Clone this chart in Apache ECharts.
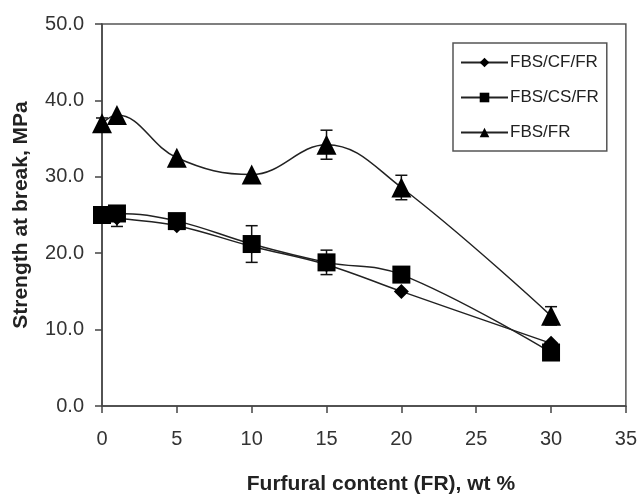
<!DOCTYPE html>
<html>
<head>
<meta charset="utf-8">
<script src="https://cdn.jsdelivr.net/npm/echarts@6/dist/echarts.min.js"></script>
<style>
html,body{margin:0;padding:0;background:#fff;}
#chart{width:640px;height:500px;}
</style>
</head>
<body>
<div id="chart"></div>
<script>
// ---- data ----
var xValues = [0, 1, 5, 10, 15, 20, 30];
var seriesNames = ['FBS/CF/FR', 'FBS/CS/FR', 'FBS/FR'];
var cfValues = [25.0, 24.6, 23.6, 20.9, 18.5, 15.0, 8.2];
var csValues = [25.0, 25.2, 24.2, 21.2, 18.8, 17.2, 7.0];
var frValues = [37.0, 38.1, 32.5, 30.3, 34.2, 28.6, 11.8];
var cfErrors = [0, 1.1, 0, 0, 0, 0, 0];
var csErrors = [0, 0, 0, 2.4, 1.6, 0, 0];
var frErrors = [0.7, 0, 0, 0, 1.9, 1.6, 1.2];
var xTitle = 'Furfural content (FR), wt %';
var yTitle = 'Strength at break, MPa';

var FONT = "'Liberation Sans', Arial, sans-serif";

function pairs(vals) {
  return xValues.map(function (x, i) { return [x, vals[i]]; });
}
function errData(vals, errs) {
  var out = [];
  xValues.forEach(function (x, i) {
    if (errs[i] > 0) out.push([x, vals[i] - errs[i], vals[i] + errs[i]]);
  });
  return out;
}
function errSeries(vals, errs) {
  return {
    type: 'custom',
    z: 1,
    silent: true,
    data: errData(vals, errs),
    renderItem: function (params, api) {
      var x = api.value(0);
      var lo = api.coord([x, api.value(1)]);
      var hi = api.coord([x, api.value(2)]);
      var hw = 6;
      var st = { stroke: '#111', lineWidth: 1.5 };
      return {
        type: 'group',
        children: [
          { type: 'line', shape: { x1: lo[0], y1: lo[1], x2: hi[0], y2: hi[1] }, style: st },
          { type: 'line', shape: { x1: lo[0] - hw, y1: lo[1], x2: lo[0] + hw, y2: lo[1] }, style: st },
          { type: 'line', shape: { x1: hi[0] - hw, y1: hi[1], x2: hi[0] + hw, y2: hi[1] }, style: st }
        ]
      };
    }
  };
}
function lineSeries(name, vals, symbol, size) {
  return {
    name: name,
    type: 'line',
    z: 3,
    data: pairs(vals),
    smooth: 0.4,
    symbol: symbol,
    symbolSize: size,
    showAllSymbol: true,
    lineStyle: { color: '#222', width: 1.5 },
    itemStyle: { color: '#000', borderWidth: 0 }
  };
}

var chart = echarts.init(document.getElementById('chart'), null, { renderer: 'canvas' });
chart.setOption({
  animation: false,
  backgroundColor: '#fff',
  grid: {
    left: 102, right: 12, top: 24, bottom: 88,
    show: true, borderColor: '#555', borderWidth: 1.5, backgroundColor: 'transparent'
  },
  legend: {
    data: seriesNames,
    orient: 'vertical',
    left: 453, top: 43,
    padding: [11, 8, 10, 7],
    itemGap: 18,
    itemWidth: 47,
    itemHeight: 12,
    borderColor: '#555',
    borderWidth: 1.5,
    textStyle: { fontFamily: FONT, fontSize: 17, color: '#222', padding: [0, 0, 0, -3] }
  },
  xAxis: {
    type: 'value',
    min: 0, max: 35, interval: 5,
    name: xTitle,
    nameLocation: 'middle',
    nameGap: 68,
    nameTextStyle: { fontFamily: FONT, fontSize: 21, fontWeight: 'bold', color: '#222', padding: [0, 0, 0, 34] },
    axisLine: { lineStyle: { color: '#444', width: 1.5 } },
    axisTick: { show: true, inside: false, length: 7, lineStyle: { color: '#444', width: 1.5 } },
    axisLabel: { margin: 23, fontFamily: FONT, fontSize: 20, color: '#333' },
    splitLine: { show: false }
  },
  yAxis: {
    type: 'value',
    min: 0, max: 50, interval: 10,
    name: yTitle,
    nameLocation: 'middle',
    nameGap: 70,
    nameRotate: 90,
    nameTextStyle: { fontFamily: FONT, fontSize: 21, fontWeight: 'bold', color: '#222' },
    axisLine: { show: true, lineStyle: { color: '#444', width: 1.5 } },
    axisTick: { show: true, inside: false, length: 7, lineStyle: { color: '#444', width: 1.5 } },
    axisLabel: {
      margin: 18, fontFamily: FONT, fontSize: 20, color: '#333',
      formatter: function (v) { return v.toFixed(1); }
    },
    splitLine: { show: false }
  },
  series: [
    errSeries(cfValues, cfErrors),
    errSeries(csValues, csErrors),
    errSeries(frValues, frErrors),
    lineSeries(seriesNames[0], cfValues, 'diamond', 15),
    lineSeries(seriesNames[1], csValues, 'rect', 18),
    lineSeries(seriesNames[2], frValues, 'triangle', 20)
  ]
});
</script>
</body>
</html>
